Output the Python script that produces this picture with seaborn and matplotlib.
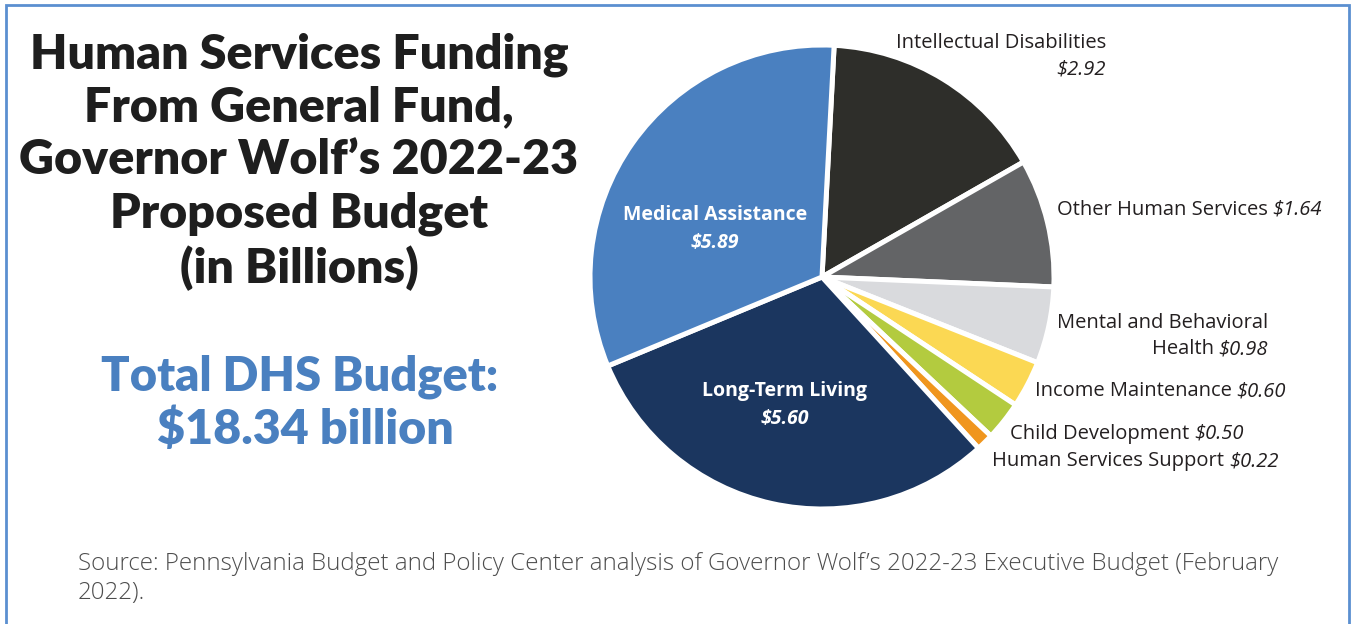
import matplotlib
matplotlib.use("Agg")
import matplotlib.pyplot as plt
from matplotlib.patches import Rectangle
import seaborn as sns

# Human Services funding by program, General Fund, in billions of dollars
programs = [
    "Intellectual Disabilities",
    "Other Human Services",
    "Mental and Behavioral Health",
    "Income Maintenance",
    "Child Development",
    "Human Services Support",
    "Long-Term Living",
    "Medical Assistance",
]
amounts = [2.92, 1.64, 0.98, 0.60, 0.50, 0.22, 5.60, 5.89]
value_labels = ["$2.92", "$1.64", "$0.98", "$0.60", "$0.50", "$0.22", "$5.60", "$5.89"]
slice_colors = ["#2e2e2a", "#636466", "#d9dadd", "#fbd853", "#b3cb3f",
                "#f0961e", "#1b365f", "#4a80c0"]
total_label = "$18.34 billion"

sns.set_theme(style="white")
plt.rcParams["font.family"] = ["Open Sans", "DejaVu Sans"]

W, H = 1354, 624
fig = plt.figure(figsize=(W / 100, H / 100), dpi=100)
fig.patch.set_facecolor("white")
ax = fig.add_axes([0, 0, 1, 1])


def py(y):
    """Convert a top-down pixel row to the axes' bottom-up coordinate."""
    return H - y


palette = sns.color_palette(slice_colors)
ax.pie(
    amounts,
    colors=palette,
    startangle=87,
    counterclock=False,
    center=(822, py(277)),
    radius=232,
    wedgeprops=dict(edgecolor="white", linewidth=3.6),
    frame=True,
)
ax.set_xlim(0, W)
ax.set_ylim(0, H)
ax.set_aspect("equal")
ax.axis("off")

# outer frame
ax.add_patch(Rectangle((6, py(700)), 1343, 700 - 5, fill=False,
                       edgecolor="#5b8fd0", linewidth=2.0, zorder=0))

# title block
heavy = dict(fontweight="heavy", family=["Lato", "DejaVu Sans"])
title_lines = ["Human Services Funding", "From General Fund,",
               "Governor Wolf\u2019s 2022-23", "Proposed Budget", "(in Billions)"]
title_y = [55, 107, 160, 214, 268]
for line, y in zip(title_lines, title_y):
    ax.text(299, py(y), line, ha="center", va="center", fontsize=34.8,
            color="#1e1e1e", **heavy)

ax.text(300, py(377), "Total DHS Budget:", ha="center", va="center",
        fontsize=33.8, color="#4a80c0", **heavy)
ax.text(305, py(430), total_label, ha="center", va="center",
        fontsize=34.8, color="#4a80c0", **heavy)

# labels inside the two largest slices
inside = {"Medical Assistance": (715, 215, 243), "Long-Term Living": (785, 391, 419)}
for name, (x, y1, y2) in inside.items():
    i = programs.index(name)
    ax.text(x, py(y1), name, ha="center", va="center", fontsize=14,
            fontweight="bold", color="white")
    ax.text(x, py(y2), value_labels[i], ha="center", va="center", fontsize=14,
            fontweight="bold", style="italic", color="white")

label_kw = dict(fontsize=14.5, color="#231f20")


def left_label(name_text, value_text, x, y):
    t = ax.text(x, py(y), name_text, ha="left", va="center", **label_kw)
    ax.annotate(value_text, xy=(1, 0), xycoords=t, xytext=(3.5, 0),
                textcoords="offset points", ha="left", va="bottom",
                style="italic", **label_kw)


def right_label(name_text, value_text, x, y):
    v = ax.text(x, py(y), value_text, ha="right", va="center",
                style="italic", **label_kw)
    ax.annotate(name_text, xy=(0, 0), xycoords=v, xytext=(-3.5, 0),
                textcoords="offset points", ha="right", va="bottom", **label_kw)


# Intellectual Disabilities: name over value, right aligned
ax.text(1106, py(43), programs[0], ha="right", va="center", **label_kw)
ax.text(1106, py(70), value_labels[0], ha="right", va="center",
        style="italic", **label_kw)

left_label(programs[1], value_labels[1], 1057, 210)
ax.text(1268, py(323), "Mental and Behavioral", ha="right", va="center", **label_kw)
right_label("Health", value_labels[2], 1268, 349)
left_label(programs[3], value_labels[3], 1035, 391)
left_label(programs[4], value_labels[4], 1010, 434)
left_label(programs[5], value_labels[5], 992, 461)

# source note
src_kw = dict(fontsize=17.4, color="#4d4d4d", fontweight="light",
              family=["Open Sans", "DejaVu Sans"], ha="left", va="center")
ax.text(78, py(564), "Source: Pennsylvania Budget and Policy Center analysis of "
        "Governor Wolf\u2019s 2022-23 Executive Budget (February", **src_kw)
ax.text(78, py(593), "2022).", **src_kw)

fig.savefig("out.png", dpi=100, facecolor="white")
